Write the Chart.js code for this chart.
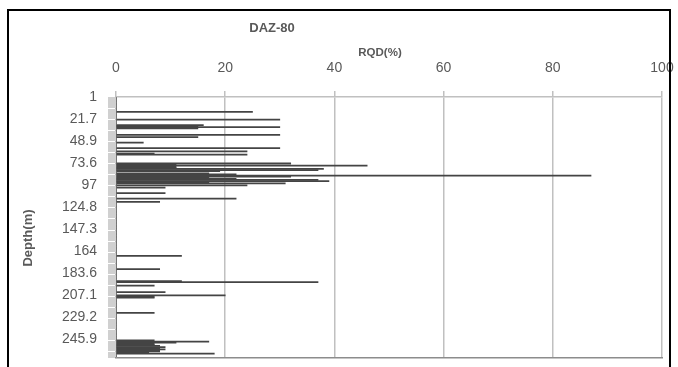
<!DOCTYPE html>
<html><head><meta charset="utf-8">
<script src="https://cdn.jsdelivr.net/npm/chart.js@4"></script>
<style>html,body{margin:0;padding:0;background:#fff}#wrap{width:678px;height:367px;position:relative}</style>
</head><body><div id="wrap"><canvas id="c" width="678" height="367"></canvas></div>
<script>
// Shown depth tick labels (every 20th core run)
const depthTickLabels = ['1','21.7','48.9','73.6','97','124.8','147.3','164','183.6','207.1','229.2','245.9'];
const labelEvery = 20;
const categoryCount = 237;
// RQD (%) per core run, top to bottom
const rqd = [
  0,0,0,0,0,0,0,0,0,0,0,0,0,25,0,0,0,0,0,0,
  30,0,0,0,0,16,15,30,15,0,0,0,0,0,30,0,15,0,0,0,
  0,5,0,0,0,0,30,0,0,24,0,7,24,0,0,0,0,0,0,0,
  32,11,46,11,11,38,37,19,0,17,22,87,32,17,22,37,39,17,31,0,
  24,0,9,0,0,0,0,9,0,0,0,0,22,0,0,8,0,0,0,0,
  0,0,0,0,0,0,0,0,0,0,0,0,0,0,0,0,0,0,0,0,
  0,0,0,0,0,0,0,0,0,0,0,0,0,0,0,0,0,0,0,0,
  0,0,0,0,12,0,0,0,0,0,0,0,0,0,0,0,8,0,0,0,
  0,0,0,0,0,0,0,12,37,0,0,7,0,0,0,0,0,9,0,0,
  20,7,7,0,0,0,0,0,0,0,0,0,0,0,0,0,7,0,0,0,
  0,0,0,0,0,0,0,0,0,0,0,0,0,0,0,0,0,0,0,0,
  0,7,17,11,7,7,8,9,8,9,8,8,6,18,0,0,0
];
const xMin = 0, xMax = 100, xStep = 20;
const chartTitle = 'DAZ-80', xTitle = 'RQD(%)', yTitle = 'Depth(m)';

const categories = [];
for (let i = 0; i < categoryCount; i++) {
  categories.push(i % labelEvery === 0 ? depthTickLabels[i / labelEvery] : '');
}

const textColor = '#595959';
const font = 'Liberation Sans';

const decor = {
  id: 'decor',
  afterDraw(chart) {
    const ctx = chart.ctx;
    ctx.save();
    ctx.fillStyle = textColor;
    ctx.textAlign = 'center';
    ctx.textBaseline = 'middle';
    ctx.font = 'bold 13px "' + font + '"';
    ctx.fillText(chartTitle, 272, 28);
    ctx.font = 'bold 11.5px "' + font + '"';
    ctx.fillText(xTitle, 380, 53);
    ctx.translate(28, 238);
    ctx.rotate(-Math.PI / 2);
    ctx.font = 'bold 13px "' + font + '"';
    ctx.fillText(yTitle, 0, 0);
    ctx.restore();
    ctx.save();
    ctx.strokeStyle = '#000';
    ctx.lineWidth = 2;
    ctx.strokeRect(8, 10, 662, 400);
    ctx.restore();
  }
};

new Chart(document.getElementById('c'), {
  type: 'bar',
  data: {
    labels: categories,
    datasets: [{
      data: rqd,
      backgroundColor: '#444444',
      borderWidth: 0,
      barPercentage: 1,
      categoryPercentage: 1,
      xAxisID: 'x',
      yAxisID: 'y'
    }]
  },
  options: {
    indexAxis: 'y',
    responsive: false,
    animation: false,
    devicePixelRatio: 1,
    layout: { padding: { left: 0, right: 16, top: 0, bottom: 0 } },
    plugins: { legend: { display: false }, tooltip: { enabled: false }, title: { display: false } },
    scales: {
      x: {
        type: 'linear', position: 'top', min: xMin, max: xMax,
        ticks: { stepSize: xStep, color: textColor, font: { family: font, size: 14 }, padding: 14 },
        grid: { color: '#c0c0c0', lineWidth: 1.5, tickLength: 6 },
        border: { color: '#c0c0c0', width: 1.5 },
        afterFit(s) { s.height = 97; s.paddingLeft = 0; s.paddingRight = 0; }
      },
      x2: {
        type: 'linear', position: 'bottom', min: xMin, max: xMax, display: true,
        ticks: { display: false },
        grid: { display: false, drawTicks: false },
        border: { color: '#8c8c8c', width: 1.5 },
        afterFit(s) { s.height = 9.5; s.paddingLeft = 0; s.paddingRight = 0; }
      },
      y: {
        type: 'category',
        ticks: { autoSkip: false, color: textColor, font: { family: font, size: 14 }, padding: 11,
          callback(v, i) { return categories[i]; } },
        grid: { drawOnChartArea: false, tickLength: 8, color: '#d0d0d0', lineWidth: 1, offset: true },
        border: { color: '#a0a0a0', width: 1 },
        afterFit(s) { s.width = 116; s.paddingTop = 0; s.paddingBottom = 0; }
      }
    }
  },
  plugins: [decor]
});
</script>
</body></html>
